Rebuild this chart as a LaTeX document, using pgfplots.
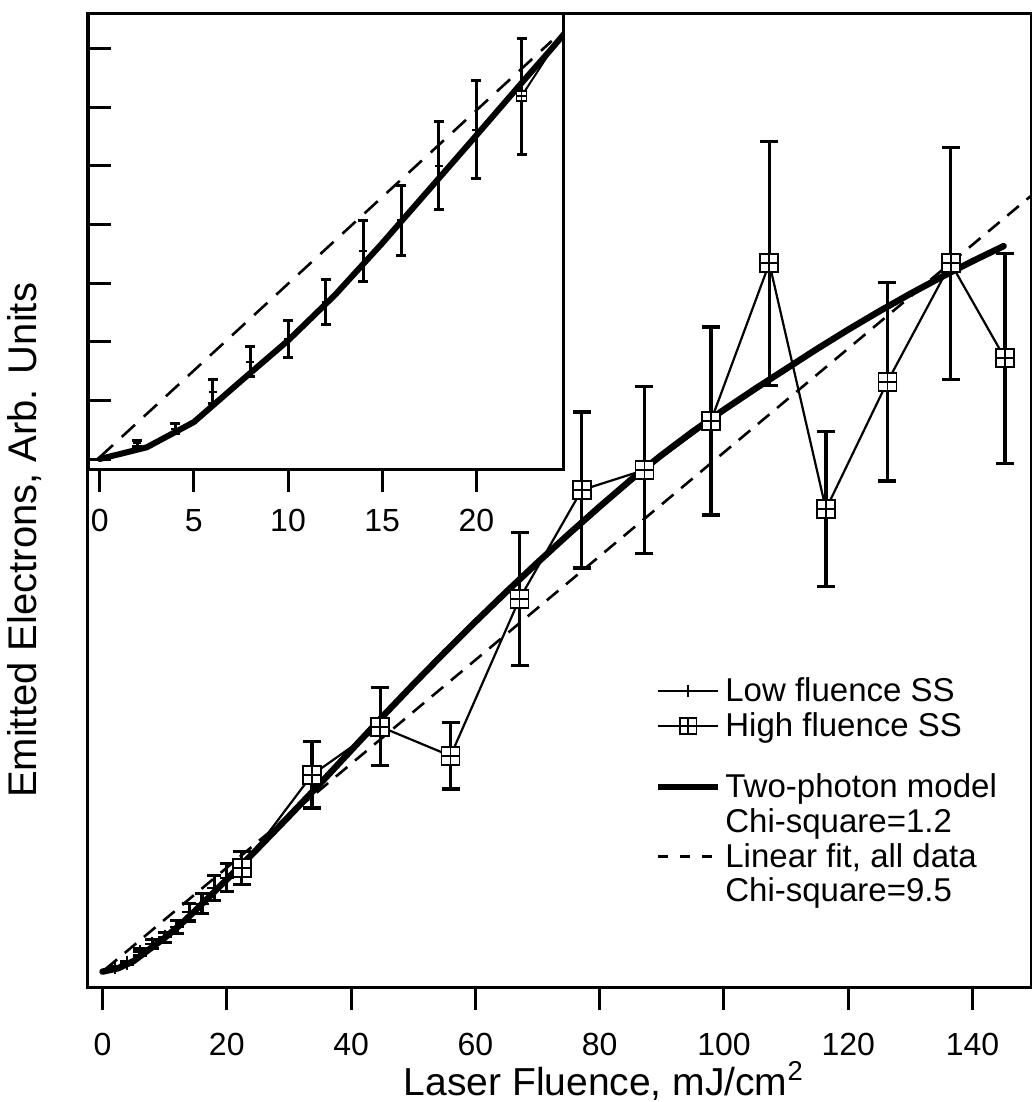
\documentclass[border=0pt]{standalone}
\usepackage{fontspec}
\setmainfont{Liberation Sans}
\usepackage{pgfplots}
\usepackage{pgfplotstable}
\pgfplotsset{compat=1.18}

% square with a plus inside
\pgfdeclareplotmark{boxplus}{%
  \pgfpathrectangle{\pgfqpoint{-\pgfplotmarksize}{-\pgfplotmarksize}}{\pgfqpoint{2\pgfplotmarksize}{2\pgfplotmarksize}}%
  \pgfusepathqfillstroke
  \pgfpathmoveto{\pgfqpoint{-\pgfplotmarksize}{0pt}}\pgfpathlineto{\pgfqpoint{\pgfplotmarksize}{0pt}}%
  \pgfpathmoveto{\pgfqpoint{0pt}{-\pgfplotmarksize}}\pgfpathlineto{\pgfqpoint{0pt}{\pgfplotmarksize}}%
  \pgfusepathqstroke}

\newcommand{\ticksz}{\fontsize{16}{19}\selectfont}
\newcommand{\legsz}{\fontsize{16.5}{19}\selectfont}
\newcommand{\labsz}{\fontsize{20}{24}\selectfont}
\newcommand{\xlabsz}{\fontsize{19.5}{23}\selectfont}

% low fluence SS
\pgfplotstableread{
x y e
2 0.27 0.05
4 0.52 0.09
6 1.15 0.20
8 1.66 0.26
10 2.05 0.31
12 2.68 0.38
14 3.55 0.52
16 4.07 0.60
18 5.00 0.75
20 5.62 0.84
}\lowfl

% high fluence SS
\pgfplotstableread{
x y e
22.4 6.19 0.99
33.7 11.78 1.98
44.7 14.67 2.34
56.0 12.92 1.98
67.1 22.32 4.00
77.1 28.84 4.67
87.2 30.04 4.99
97.9 32.98 5.63
107.3 42.42 7.31
116.4 27.69 4.64
126.3 35.33 5.95
136.5 42.42 6.95
145.2 36.73 6.29
}\highfl

% two-photon model
\pgfplotstableread{
x y
0 0
2.5 0.20
5 0.63
7.5 1.33
10 2.02
12.5 2.80
15 3.68
17.5 4.60
20 5.52
22.5 6.45
24 7.00
25 7.38
30 9.30
35 11.25
40 13.25
45 15.25
50 17.2
55 19.1
60 20.95
65 22.75
70 24.5
75 26.2
80 27.85
85 29.45
90 30.95
95 32.35
100 33.65
105 34.9
110 36.1
115 37.3
120 38.45
125 39.55
130 40.6
135 41.6
140 42.55
145 43.45
}\model

\begin{document}
\begin{tikzpicture}
\useasboundingbox (-44pt,-57.5pt) rectangle (472pt,493.5pt);
\begin{axis}[
  name=main, at={(0,0)}, anchor=south west,
  scale only axis, width=471.5pt, height=486.5pt,
  xmin=-2.33, xmax=149.4, ymin=-0.92, ymax=57.35,
  xtick={0,20,...,140}, ytick=\empty, xtick pos=left,
  tick align=outside, major tick length=11.5pt,
  axis line style={line width=1.5pt},
  every tick/.style={black, line width=1.5pt},
  /pgf/number format/assume math mode=true,
  xticklabel style={font=\ticksz, yshift=-8pt},
  xlabel={Laser Fluence, mJ/cm\textsuperscript{2}},
  xlabel style={font=\xlabsz, at={(axis description cs:0.547,0)}, anchor=center, yshift=-47pt},
  ylabel={Emitted Electrons, Arb. Units},
  ylabel style={font=\labsz, at={(axis description cs:-0.0668,0.459)}, anchor=center},
  legend style={draw=none, fill=none, at={(axis cs:88.9,17.88)}, anchor=north west,
    font=\legsz, row sep=0pt, inner sep=0pt, cells={anchor=west}},
  legend image code/.code={\draw[mark repeat=2,mark phase=2,#1] plot coordinates {(0pt,0pt) (15pt,0pt) (30pt,0pt)};},
]
\addplot[forget plot, black, only marks, mark=+, mark size=3.5pt, mark options={line width=1pt},
  error bars/.cd, y dir=both, y explicit,
  error bar style={line width=1.6pt},
  error mark options={rotate=90, mark size=3.5pt, line width=1.6pt}]
  table[x=x, y=y, y error=e] {\lowfl};
\addplot[forget plot, black, line width=1.1pt, mark=boxplus, mark size=4.5pt, mark options={line width=0.9pt, fill=white},
  error bars/.cd, y dir=both, y explicit,
  error bar style={line width=1.6pt},
  error mark options={rotate=90, mark size=4.5pt, line width=1.6pt}]
  table[x=x, y=y, y error=e] {\highfl};
\addplot[forget plot, black, line width=3.2pt, line join=round, line cap=round] table[x=x, y=y] {\model};
\addplot[forget plot, black, line width=1.3pt, dash pattern=on 7.5pt off 5pt] coordinates {(0.5,0.16) (149.3,46.43)};

\addlegendimage{black, line width=1pt, mark=+, mark size=3pt}
\addlegendentry{Low fluence SS}
\addlegendimage{black, line width=1pt, mark=boxplus, mark size=4pt, mark options={fill=white, line width=0.9pt}}
\addlegendentry{High fluence SS}
\addlegendimage{empty legend}
\addlegendentry{\rule{0pt}{7.5pt}}
\addlegendimage{black, line width=3pt}
\addlegendentry{Two-photon model}
\addlegendimage{empty legend}
\addlegendentry{Chi-square=1.2}
\addlegendimage{black, line width=1.3pt, dash pattern=on 5pt off 6pt}
\addlegendentry{Linear fit, all data}
\addlegendimage{empty legend}
\addlegendentry{Chi-square=9.5}
\end{axis}

\begin{axis}[
  name=inset, at={(main.north west)}, anchor=north west,
  scale only axis, width=237.5pt, height=227.5pt,
  axis background/.style={fill=white},
  xmin=-0.62, xmax=24.6, ymin=-0.17, ymax=7.59,
  xtick={0,5,...,20}, ytick={0,1,...,7}, yticklabels={},
  xtick pos=left, ytick pos=left,
  tick align=outside, major tick length=11.5pt,
  y tick style={xshift=11.5pt},
  axis line style={line width=1.5pt},
  every tick/.style={black, line width=1.5pt},
  /pgf/number format/assume math mode=true,
  xticklabel style={font=\ticksz, yshift=-5pt},
]
\addplot[black, only marks, mark=+, mark size=2pt, mark options={line width=1pt},
  error bars/.cd, y dir=both, y explicit,
  error bar style={line width=1.5pt},
  error mark options={rotate=90, mark size=2.5pt, line width=1.5pt}]
  table[x=x, y=y, y error=e] {\lowfl};
\addplot[black, line width=1pt, mark=boxplus, mark size=2.5pt, mark options={line width=0.8pt, fill=white},
  error bars/.cd, y dir=both, y explicit,
  error bar style={line width=1.5pt},
  error mark options={rotate=90, mark size=2.5pt, line width=1.5pt}]
  table[x=x, y=y, y error=e] {\highfl};
\addplot[black, line width=3pt, line join=round, line cap=round] table[x=x, y=y] {\model};
\addplot[black, line width=1.3pt, dash pattern=on 9pt off 6pt] coordinates {(0,0.03) (24.0,7.13)};
\end{axis}
\end{tikzpicture}
\end{document}
